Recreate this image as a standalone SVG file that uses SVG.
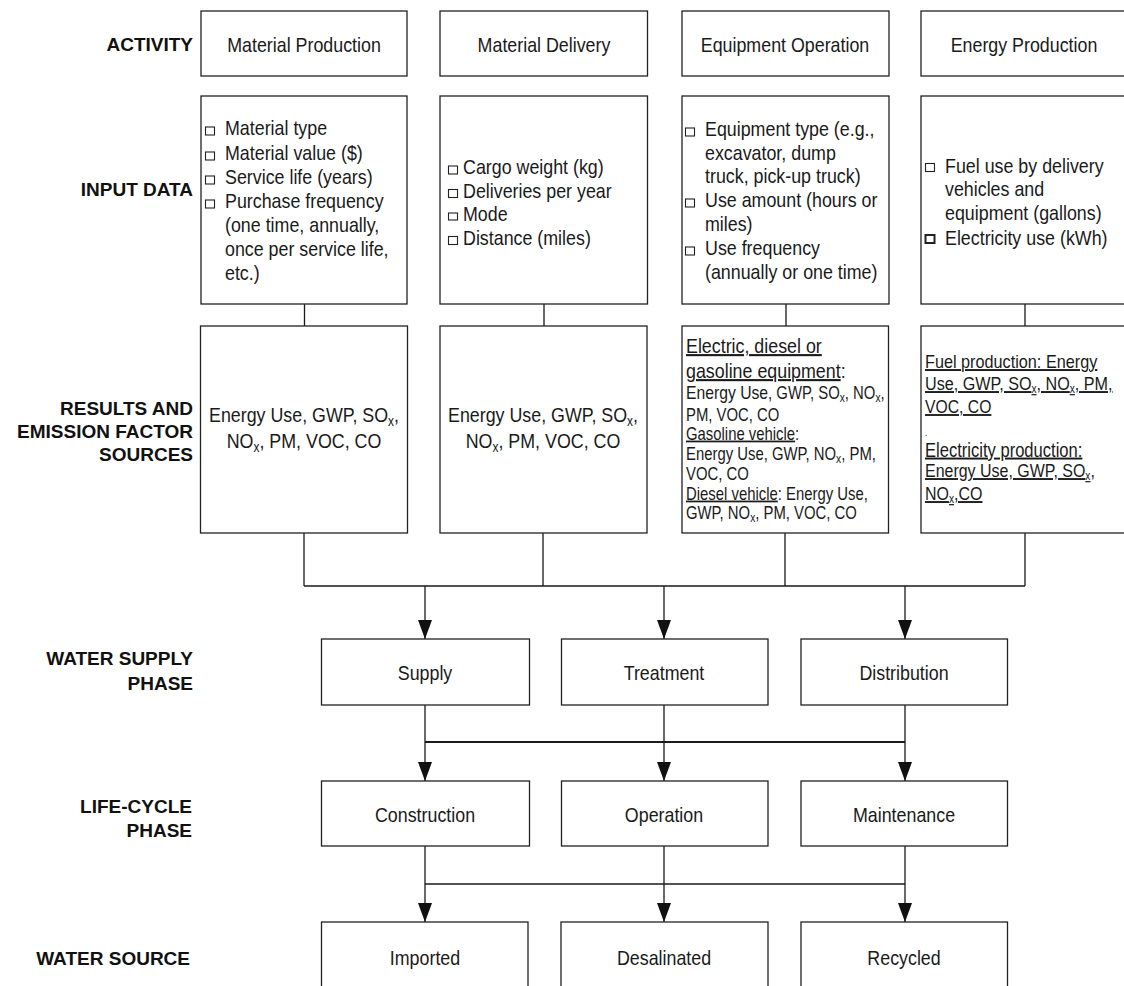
<svg xmlns="http://www.w3.org/2000/svg" width="1124" height="986" viewBox="0 0 1124 986">
<style>
.bg{fill:#fff}
.box{fill:#fff;stroke:#222;stroke-width:1.3}
.ln{fill:none;stroke:#1a1a1a;stroke-width:1.3}
.thick{stroke-width:2.2}
.lab{font-family:"Liberation Sans",Arial,sans-serif;font-weight:bold;font-size:19px;fill:#111;text-anchor:end}
.t{font-family:"Liberation Sans",Arial,sans-serif;font-size:21px;fill:#1a1a1a}
.c{text-anchor:middle}
.s{font-size:17.5px}
.u{text-decoration:underline}
.bul{fill:none;stroke:#222;stroke-width:1.1}
</style>
<defs>
<marker id="ah" viewBox="0 0 19 14" refX="19" refY="7" markerWidth="19" markerHeight="14" orient="auto" markerUnits="userSpaceOnUse">
<path d="M0,0 L19,7 L0,14 z" fill="#111"/>
</marker>
</defs>
<rect class="bg" x="0" y="0" width="1124" height="986"/>

<g id="labels">
<text class="lab" x="193" y="51">ACTIVITY</text>
<text class="lab" x="193" y="196">INPUT DATA</text>
<text class="lab" x="193" y="415">RESULTS AND</text>
<text class="lab" x="193" y="438">EMISSION FACTOR</text>
<text class="lab" x="193" y="461">SOURCES</text>
<text class="lab" x="193" y="665">WATER SUPPLY</text>
<text class="lab" x="193" y="690">PHASE</text>
<text class="lab" x="192" y="813">LIFE-CYCLE</text>
<text class="lab" x="192" y="837">PHASE</text>
<text class="lab" x="190" y="965">WATER SOURCE</text>
</g>

<g id="connectors">
<path class="ln" d="M304.5,304 V326 M544,304 V326 M786,304 V326 M1025,304 V326"/>
<path class="ln" d="M304,533 V586 M543,533 V586 M785,533 V586 M1025,533 V586 M304,586 H1025"/>
<path class="ln" d="M425,586 V639" marker-end="url(#ah)"/>
<path class="ln" d="M664,586 V639" marker-end="url(#ah)"/>
<path class="ln" d="M905,586 V639" marker-end="url(#ah)"/>
<path class="ln thick" d="M425,742 H905"/>
<path class="ln" d="M425,705 V781" marker-end="url(#ah)"/>
<path class="ln" d="M664,705 V781" marker-end="url(#ah)"/>
<path class="ln" d="M905,705 V781" marker-end="url(#ah)"/>
<path class="ln" d="M425,884 H905"/>
<path class="ln" d="M425,846 V922" marker-end="url(#ah)"/>
<path class="ln" d="M664,846 V922" marker-end="url(#ah)"/>
<path class="ln" d="M905,846 V922" marker-end="url(#ah)"/>
</g>

<g id="act-material-production">
<rect class="box" x="201" y="11" width="206" height="65"/>
<text class="t c" transform="matrix(.85 0 0 1 304 52)">Material Production</text>
</g>
<g id="act-material-delivery">
<rect class="box" x="440" y="11" width="207.5" height="65"/>
<text class="t c" transform="matrix(.85 0 0 1 544 52)">Material Delivery</text>
</g>
<g id="act-equipment-operation">
<rect class="box" x="682" y="11" width="207" height="65"/>
<text class="t c" transform="matrix(.85 0 0 1 785 52)">Equipment Operation</text>
</g>
<g id="act-energy-production">
<rect class="box" x="921" y="11" width="210" height="65"/>
<text class="t c" transform="matrix(.85 0 0 1 1024 52)">Energy Production</text>
</g>

<g id="in-material-production">
<rect class="box" x="201" y="96" width="206" height="208"/>
<rect class="bul" x="205.5" y="127" width="9" height="8"/>
<rect class="bul" x="205.5" y="152" width="9" height="8"/>
<rect class="bul" x="205.5" y="176" width="9" height="8"/>
<rect class="bul" x="205.5" y="200" width="9" height="8"/>
<text class="t" transform="matrix(.85 0 0 1 225 135)">Material type</text>
<text class="t" transform="matrix(.85 0 0 1 225 160)">Material value ($)</text>
<text class="t" transform="matrix(.85 0 0 1 225 184)">Service life (years)</text>
<text class="t" transform="matrix(.85 0 0 1 225 208)">Purchase frequency</text>
<text class="t" transform="matrix(.85 0 0 1 225 232)">(one time, annually,</text>
<text class="t" transform="matrix(.85 0 0 1 225 256)">once per service life,</text>
<text class="t" transform="matrix(.85 0 0 1 225 280)">etc.)</text>
</g>

<g id="in-material-delivery">
<rect class="box" x="440" y="96" width="207.5" height="208"/>
<rect class="bul" x="448.5" y="166" width="9" height="8"/>
<rect class="bul" x="448.5" y="189.5" width="9" height="8"/>
<rect class="bul" x="448.5" y="213" width="9" height="7"/>
<rect class="bul" x="448.5" y="236.5" width="9" height="8"/>
<text class="t" transform="matrix(.85 0 0 1 463 174)">Cargo weight (kg)</text>
<text class="t" transform="matrix(.85 0 0 1 463 197.5)">Deliveries per year</text>
<text class="t" transform="matrix(.85 0 0 1 463 221)">Mode</text>
<text class="t" transform="matrix(.85 0 0 1 463 244.5)">Distance (miles)</text>
</g>

<g id="in-equipment-operation">
<rect class="box" x="682" y="96" width="207" height="208"/>
<rect class="bul" x="685.5" y="128" width="9" height="8"/>
<rect class="bul" x="685.5" y="199" width="9" height="8"/>
<rect class="bul" x="685.5" y="247" width="9" height="8"/>
<text class="t" transform="matrix(.85 0 0 1 705 136)">Equipment type (e.g.,</text>
<text class="t" transform="matrix(.85 0 0 1 705 160)">excavator, dump</text>
<text class="t" transform="matrix(.85 0 0 1 705 183)">truck, pick-up truck)</text>
<text class="t" transform="matrix(.85 0 0 1 705 207)">Use amount (hours or</text>
<text class="t" transform="matrix(.85 0 0 1 705 231)">miles)</text>
<text class="t" transform="matrix(.85 0 0 1 705 255)">Use frequency</text>
<text class="t" transform="matrix(.85 0 0 1 705 279)">(annually or one time)</text>
</g>

<g id="in-energy-production">
<rect class="box" x="921" y="96" width="210" height="208"/>
<rect class="bul" x="925.5" y="163.5" width="9" height="8"/>
<rect class="bul" x="925.5" y="235" width="9" height="8" style="stroke-width:2"/>
<text class="t" transform="matrix(.85 0 0 1 945 173)">Fuel use by delivery</text>
<text class="t" transform="matrix(.85 0 0 1 945 196)">vehicles and</text>
<text class="t" transform="matrix(.85 0 0 1 945 220)">equipment (gallons)</text>
<text class="t" transform="matrix(.85 0 0 1 945 245)">Electricity use (kWh)</text>
</g>

<g id="res-material-production">
<rect class="box" x="200.5" y="326" width="207" height="207"/>
<text class="t c" transform="matrix(.85 0 0 1 304 422)">Energy Use, GWP, SO<tspan dy="4" font-size="14">x</tspan><tspan dy="-4">,</tspan></text>
<text class="t c" transform="matrix(.85 0 0 1 304 448)">NO<tspan dy="4" font-size="14">x</tspan><tspan dy="-4">, PM, VOC, CO</tspan></text>
</g>

<g id="res-material-delivery">
<rect class="box" x="440" y="326" width="207" height="207"/>
<text class="t c" transform="matrix(.85 0 0 1 543 422)">Energy Use, GWP, SO<tspan dy="4" font-size="14">x</tspan><tspan dy="-4">,</tspan></text>
<text class="t c" transform="matrix(.85 0 0 1 543 448)">NO<tspan dy="4" font-size="14">x</tspan><tspan dy="-4">, PM, VOC, CO</tspan></text>
</g>

<g id="res-equipment-operation">
<rect class="box" x="682" y="326" width="206.5" height="207"/>
<text class="t" transform="matrix(.85 0 0 1 686 353)"><tspan class="u">Electric, diesel or</tspan></text>
<text class="t" transform="matrix(.85 0 0 1 686 378)"><tspan class="u">gasoline equipment</tspan>:</text>
<text class="t s" transform="matrix(.85 0 0 1 686 399)"><tspan font-size="18.5">Energy Use</tspan>, GWP, SO<tspan dy="3" font-size="12">x</tspan><tspan dy="-3">, NO</tspan><tspan dy="3" font-size="12">x</tspan><tspan dy="-3">,</tspan></text>
<text class="t s" transform="matrix(.85 0 0 1 686 421)">PM, VOC, CO</text>
<text class="t s" transform="matrix(.85 0 0 1 686 439.5)"><tspan class="u">Gasoline vehicle</tspan>:</text>
<text class="t s" transform="matrix(.85 0 0 1 686 459.5)">Energy Use, GWP, NO<tspan dy="3" font-size="12">x</tspan><tspan dy="-3">, PM,</tspan></text>
<text class="t s" transform="matrix(.85 0 0 1 686 480)">VOC, CO</text>
<text class="t s" transform="matrix(.85 0 0 1 686 499.5)"><tspan class="u">Diesel vehicle</tspan>: Energy Use,</text>
<text class="t s" transform="matrix(.85 0 0 1 686 518.5)">GWP, NO<tspan dy="3" font-size="12">x</tspan><tspan dy="-3">, PM, VOC, CO</tspan></text>
</g>

<g id="res-energy-production">
<rect class="box" x="921" y="326" width="210" height="207"/>
<text class="t u" style="font-size:19.1px" transform="matrix(.85 0 0 1 925 368)">Fuel production: Energy</text>
<text class="t u" style="font-size:19px" transform="matrix(.85 0 0 1 925 390)">Use, GWP, SO<tspan dy="3" font-size="12">x</tspan><tspan dy="-3">, NO</tspan><tspan dy="3" font-size="12">x</tspan><tspan dy="-3">, PM,</tspan></text>
<text class="t u" style="font-size:18.5px" transform="matrix(.85 0 0 1 925 413)">VOC, CO</text>
<text class="t" style="font-size:10px" transform="matrix(.85 0 0 1 925 436)">.</text>
<text class="t u" style="font-size:19.5px" transform="matrix(.85 0 0 1 925 456.5)">Electricity production:</text>
<text class="t u" style="font-size:18.8px" transform="matrix(.85 0 0 1 925 477)">Energy Use, GWP, SO<tspan dy="3" font-size="12">x</tspan><tspan dy="-3">,</tspan></text>
<text class="t u" style="font-size:18.8px" transform="matrix(.85 0 0 1 925 500)">NO<tspan dy="3" font-size="12">x</tspan><tspan dy="-3">,CO</tspan></text>
</g>

<g id="ws-supply">
<rect class="box" x="321.5" y="639" width="208" height="66"/>
<text class="t c" transform="matrix(.85 0 0 1 425 680)">Supply</text>
</g>
<g id="ws-treatment">
<rect class="box" x="561.5" y="639" width="206.5" height="66"/>
<text class="t c" transform="matrix(.85 0 0 1 664 680)">Treatment</text>
</g>
<g id="ws-distribution">
<rect class="box" x="801" y="639" width="206.5" height="66"/>
<text class="t c" transform="matrix(.85 0 0 1 904 680)">Distribution</text>
</g>

<g id="lc-construction">
<rect class="box" x="321.5" y="781" width="208" height="65"/>
<text class="t c" transform="matrix(.85 0 0 1 425 822)">Construction</text>
</g>
<g id="lc-operation">
<rect class="box" x="561.5" y="781" width="206.5" height="65"/>
<text class="t c" transform="matrix(.85 0 0 1 664 822)">Operation</text>
</g>
<g id="lc-maintenance">
<rect class="box" x="801" y="781" width="206.5" height="65"/>
<text class="t c" transform="matrix(.85 0 0 1 904 822)">Maintenance</text>
</g>

<g id="src-imported">
<rect class="box" x="321.5" y="922" width="206.5" height="70"/>
<text class="t c" transform="matrix(.85 0 0 1 425 965)">Imported</text>
</g>
<g id="src-desalinated">
<rect class="box" x="561" y="922" width="207" height="70"/>
<text class="t c" transform="matrix(.85 0 0 1 664 965)">Desalinated</text>
</g>
<g id="src-recycled">
<rect class="box" x="801" y="922" width="206.5" height="70"/>
<text class="t c" transform="matrix(.85 0 0 1 904 965)">Recycled</text>
</g>
</svg>
